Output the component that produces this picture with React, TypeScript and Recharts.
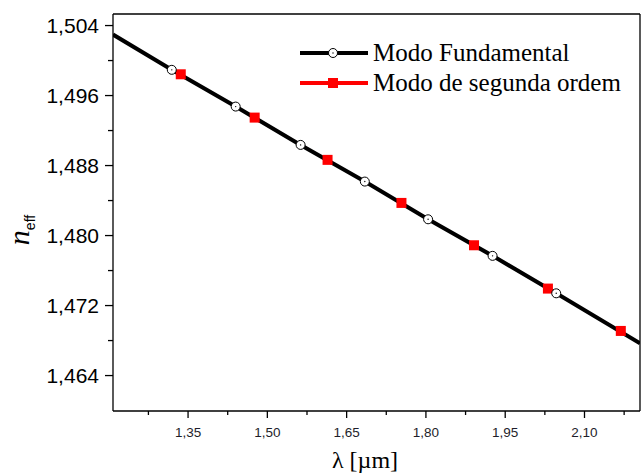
import {
  ComposedChart,
  Line,
  Scatter,
  XAxis,
  YAxis,
  Legend,
  ReferenceLine,
  Label,
} from "recharts";

// fundamental mode (black curve, open circles where marker = true)
const fundLambda = [1.208, 1.3192, 1.4401, 1.5629, 1.6844, 1.8041, 1.9261, 2.0465, 2.205];
const fundNeff = [1.50297, 1.49894, 1.49474, 1.49036, 1.48617, 1.48186, 1.47768, 1.4734, 1.46769];
const fundMarker = [false, true, true, true, true, true, true, true, false];

// second order mode (red squares)
const secLambda = [1.3362, 1.476, 1.6139, 1.7537, 1.891, 2.0308, 2.1687];
const secNeff = [1.49843, 1.49348, 1.48865, 1.48373, 1.47889, 1.47394, 1.4691];

const xMajor = [1.35, 1.5, 1.65, 1.8, 1.95, 2.1];
const xMinor = [1.275, 1.425, 1.575, 1.725, 1.875, 2.025, 2.175];
const yMajor = [1.464, 1.472, 1.48, 1.488, 1.496, 1.504];
const yMinor = [1.468, 1.476, 1.484, 1.492, 1.5];

const X_DOMAIN: [number, number] = [1.208, 2.205];
const Y_DOMAIN: [number, number] = [1.45995, 1.50532];

const fundData = fundLambda.map((x, i) => ({ x, n: fundNeff[i], marker: fundMarker[i] }));
const secData = secLambda.map((x, i) => ({ x, n: secNeff[i] }));

const xTicks = [...xMajor, ...xMinor].sort((a, b) => a - b);
const yTicks = [...yMajor, ...yMinor].sort((a, b) => a - b);

const PLOT_LEFT = 113;
const PLOT_BOTTOM = 411;
const SERIF = "'Liberation Serif', 'Times New Roman', serif";
const SANS = "'Liberation Sans', Arial, sans-serif";

const isIn = (list: number[], v: number) => list.some((m) => Math.abs(m - v) < 1e-6);
const comma = (v: number, d: number) => v.toFixed(d).replace(".", ",");

function XTick(props: any) {
  const { x, payload } = props;
  const major = isIn(xMajor, payload.value);
  return (
    <g>
      <line x1={x} x2={x} y1={PLOT_BOTTOM} y2={PLOT_BOTTOM + (major ? 7 : 4)} stroke="#000" strokeWidth={1.3} />
      {major && (
        <text x={x} y={PLOT_BOTTOM + 26} textAnchor="middle" fill="#1e1e2a" style={{ fontFamily: SANS, fontSize: 13.5 }}>
          {comma(payload.value, 2)}
        </text>
      )}
    </g>
  );
}

function YTick(props: any) {
  const { y, payload } = props;
  const major = isIn(yMajor, payload.value);
  return (
    <g>
      <line x1={PLOT_LEFT} x2={PLOT_LEFT - (major ? 8 : 5)} y1={y} y2={y} stroke="#000" strokeWidth={1.3} />
      {major && (
        <text x={PLOT_LEFT - 14} y={y} dy={7} textAnchor="end" fill="#000" style={{ fontFamily: SANS, fontSize: 21 }}>
          {comma(payload.value, 3)}
        </text>
      )}
    </g>
  );
}

function CircleDot(props: any) {
  const { cx, cy, payload, index } = props;
  if (!payload.marker) return <g key={`d${index}`} />;
  return (
    <g key={`d${index}`}>
      <circle cx={cx} cy={cy} r={4.5} fill="#fff" stroke="#000" strokeWidth={1} />
      <circle cx={cx} cy={cy} r={0.7} fill="#000" />
    </g>
  );
}

function SquareShape(props: any) {
  const { cx, cy } = props;
  return <rect x={cx - 5} y={cy - 5} width={10} height={10} fill="#ff0000" />;
}

function LegendBox() {
  const row = { display: "flex", alignItems: "center", height: 30 } as const;
  const txt = {
    fontFamily: SERIF,
    fontSize: 25,
    color: "#000",
    marginLeft: 5,
    lineHeight: "30px",
    whiteSpace: "nowrap",
  } as const;
  return (
    <div>
      <div style={row}>
        <svg width={68} height={14}>
          <line x1={0} x2={68} y1={7} y2={7} stroke="#000" strokeWidth={4} />
          <circle cx={33} cy={7} r={4.5} fill="#fff" stroke="#000" strokeWidth={1} />
          <circle cx={33} cy={7} r={0.7} fill="#000" />
        </svg>
        <span style={txt}>Modo Fundamental</span>
      </div>
      <div style={row}>
        <svg width={68} height={14}>
          <line x1={0} x2={68} y1={7} y2={7} stroke="#ff0000" strokeWidth={4} />
          <rect x={28} y={2} width={10} height={10} fill="#ff0000" />
        </svg>
        <span style={txt}>Modo de segunda ordem</span>
      </div>
    </div>
  );
}

export default function App() {
  return (
    <div style={{ position: "absolute", left: 0, top: 0, width: 643, height: 474, background: "#fff" }}>
      <ComposedChart width={643} height={474} margin={{ top: 14, right: 3, left: 0, bottom: 0 }}>
        <XAxis
          type="number"
          dataKey="x"
          domain={X_DOMAIN}
          allowDataOverflow
          ticks={xTicks}
          interval={0}
          tick={<XTick />}
          tickLine={false}
          height={63}
          axisLine={{ stroke: "#000", strokeWidth: 1.3 }}
        >
          <Label
            content={() => (
              <text x={365} y={468} textAnchor="middle" fill="#000" style={{ fontFamily: SERIF, fontSize: 24 }}>
                λ [µm]
              </text>
            )}
          />
        </XAxis>
        <YAxis
          type="number"
          domain={Y_DOMAIN}
          allowDataOverflow
          ticks={yTicks}
          interval={0}
          tick={<YTick />}
          tickLine={false}
          width={113}
          axisLine={{ stroke: "#000", strokeWidth: 1.3 }}
        >
          <Label
            content={() => (
              <text x={29} y={230} transform="rotate(-90, 29, 230)" textAnchor="middle" fill="#000">
                <tspan style={{ fontFamily: SERIF, fontStyle: "italic", fontSize: 30 }}>n</tspan>
                <tspan style={{ fontFamily: SANS, fontSize: 14 }} dy={6}>
                  eff
                </tspan>
              </text>
            )}
          />
        </YAxis>
        <ReferenceLine y={Y_DOMAIN[1]} stroke="#000" strokeWidth={1.3} />
        <ReferenceLine x={X_DOMAIN[1]} stroke="#000" strokeWidth={1.3} />
        <Legend
          layout="vertical"
          align="center"
          verticalAlign="middle"
          content={<LegendBox />}
          wrapperStyle={{ position: "absolute", top: 38, left: 300, width: "auto" }}
        />
        <Line
          data={secData}
          dataKey="n"
          name="Modo de segunda ordem"
          stroke="#ff0000"
          strokeWidth={1.5}
          dot={false}
          isAnimationActive={false}
        />
        <Line
          data={fundData}
          dataKey="n"
          name="Modo Fundamental"
          stroke="#000"
          strokeWidth={4}
          dot={<CircleDot />}
          isAnimationActive={false}
        />
        <Scatter
          data={secData}
          dataKey="n"
          name="Modo de segunda ordem"
          shape={<SquareShape />}
          isAnimationActive={false}
          legendType="none"
        />
      </ComposedChart>
    </div>
  );
}
